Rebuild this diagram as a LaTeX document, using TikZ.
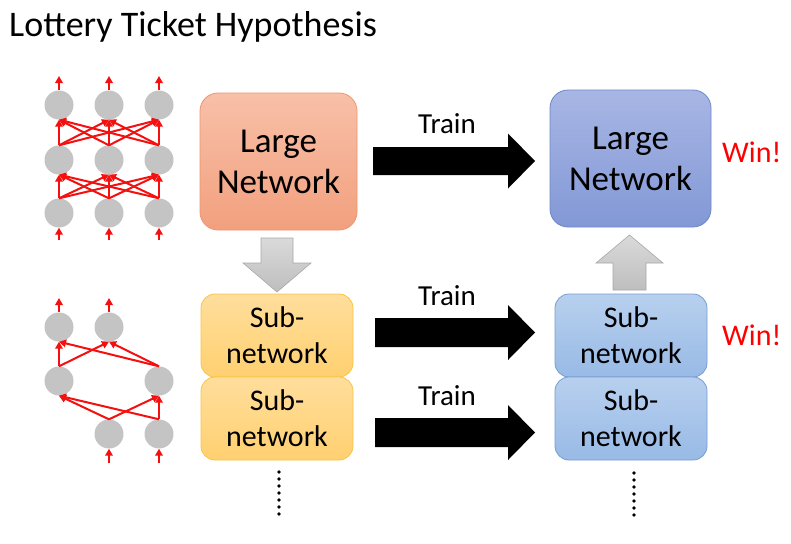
\documentclass[tikz,border=0pt]{standalone}
\usepackage{fontspec}
\setmainfont{Carlito}
\usetikzlibrary{arrows.meta}
\definecolor{nodegray}{RGB}{196,196,196}
\definecolor{arrred}{RGB}{245,15,15}
\definecolor{orTop}{RGB}{248,192,168}
\definecolor{orBot}{RGB}{242,160,126}
\definecolor{orLine}{RGB}{236,150,110}
\definecolor{blTop}{RGB}{168,182,228}
\definecolor{blBot}{RGB}{130,152,214}
\definecolor{blLine}{RGB}{110,135,200}
\definecolor{yeTop}{RGB}{255,222,156}
\definecolor{yeBot}{RGB}{255,208,112}
\definecolor{yeLine}{RGB}{250,196,70}
\definecolor{sbTop}{RGB}{184,208,238}
\definecolor{sbBot}{RGB}{152,186,230}
\definecolor{sbLine}{RGB}{118,158,210}
\definecolor{gyTop}{RGB}{218,218,218}
\definecolor{gyBot}{RGB}{190,190,190}
\definecolor{gyLine}{RGB}{168,168,168}
\definecolor{winred}{RGB}{255,0,0}
\begin{document}
\begin{tikzpicture}[x=1pt,y=-1pt,
  netnode/.style={circle, minimum size=29pt, inner sep=0pt, fill=nodegray},
  redarr/.style={draw=arrred, line width=2pt, -{Triangle[length=7pt,width=7.5pt]}},
  bigbox/.style={rounded corners=18pt, line width=0.8pt, align=center, inner sep=0pt,
    font=\fontsize{35}{41}\selectfont, minimum height=137pt},
  subbox/.style={rounded corners=14pt, line width=0.8pt, align=center, inner sep=0pt,
    font=\fontsize{30}{36}\selectfont, minimum width=152pt, minimum height=83pt},
  orangebox/.style={draw=orLine, top color=orTop, bottom color=orBot},
  bluebox/.style={draw=blLine, top color=blTop, bottom color=blBot},
  yellowbox/.style={draw=yeLine, top color=yeTop, bottom color=yeBot},
  sbluebox/.style={draw=sbLine, top color=sbTop, bottom color=sbBot},
  blockarrow/.style={fill=black},
  grayarrow/.style={draw=gyLine, line width=0.6pt, top color=gyTop, bottom color=gyBot},
  trainlabel/.style={anchor=base, inner sep=0pt, font=\fontsize{29}{34}\selectfont},
  winlabel/.style={anchor=base west, inner sep=0pt, text=winred, font=\fontsize{30}{36}\selectfont},
  dotmark/.style={fill=black}
]
\useasboundingbox (0,0) rectangle (791,543);
\fill[white] (0,0) rectangle (791,543);

% title
\node[anchor=base west, inner sep=0pt, font=\fontsize{36}{43}\selectfont] (title) at (9,37) {Lottery Ticket Hypothesis};

% ---------- network 1 ----------
\foreach \i/\x in {1/59,2/109,3/159} {
  \node[netnode] (a\i) at (\x,105) {};
  \node[netnode] (b\i) at (\x,160) {};
  \node[netnode] (c\i) at (\x,213) {};
  \coordinate (ao\i) at (\x,76);
  \coordinate (ci\i) at (\x,240);
}
\foreach \i in {1,2,3} {
  \foreach \j in {1,2,3} {
    \draw[redarr] (b\i.north) -- (a\j.south);
    \draw[redarr] (c\i.north) -- (b\j.south);
  }
  \draw[redarr] (a\i.north) -- (ao\i);
  \draw[redarr] (ci\i) -- (c\i.south);
}

% ---------- network 2 ----------
\node[netnode] (d1) at (59,327) {};
\node[netnode] (d2) at (109,327) {};
\node[netnode] (e1) at (59,381) {};
\node[netnode] (e2) at (159,381) {};
\node[netnode] (f1) at (109,434) {};
\node[netnode] (f2) at (159,434) {};
\coordinate (do1) at (59,298);
\coordinate (do2) at (109,298);
\coordinate (fi1) at (109,463);
\coordinate (fi2) at (159,463);
\foreach \i in {1,2} {
  \foreach \j in {1,2} {
    \draw[redarr] (e\i.north) -- (d\j.south);
    \draw[redarr] (f\i.north) -- (e\j.south);
  }
  \draw[redarr] (d\i.north) -- (do\i);
  \draw[redarr] (fi\i) -- (f\i.south);
}

% ---------- boxes ----------
\node[bigbox, orangebox, minimum width=157pt] (LN) at (278.5,161.5) {Large\\Network};
\node[bigbox, bluebox, minimum width=161pt] (LNT) at (630.5,158.5) {Large\\Network};
\node[subbox, yellowbox] (S1) at (277,335.5) {Sub-\\network};
\node[subbox, yellowbox] (S2) at (277,418.5) {Sub-\\network};
\node[subbox, sbluebox] (T1) at (631,335.5) {Sub-\\network};
\node[subbox, sbluebox] (T2) at (631,418.5) {Sub-\\network};

% ---------- train arrows ----------
\fill[blockarrow] (373,147) -- (508,147) -- (508,133.5) -- (535,161) -- (508,188.5) -- (508,175) -- (373,175) -- cycle;
\fill[blockarrow] (375,318) -- (508,318) -- (508,305) -- (535,332.5) -- (508,360) -- (508,347) -- (375,347) -- cycle;
\fill[blockarrow] (375,418) -- (508,418) -- (508,405) -- (535,432.5) -- (508,460) -- (508,447) -- (375,447) -- cycle;

\node[trainlabel] (tr1) at (447,133) {Train};
\node[trainlabel] (tr2) at (447,305) {Train};
\node[trainlabel] (tr3) at (447,405) {Train};

% ---------- gray arrows ----------
\path[grayarrow] (261,238) -- (293,238) -- (293,263) -- (311,263) -- (277,292) -- (243,263) -- (261,263) -- cycle;
\path[grayarrow] (613,290) -- (646,290) -- (646,263) -- (663,263) -- (629.5,235) -- (596,263) -- (613,263) -- cycle;

% ---------- win labels ----------
\node[winlabel] (win1) at (722,162) {Win!};
\node[winlabel] (win2) at (722,345) {Win!};

% ---------- dots ----------
\foreach \k in {0,...,6} {
  \fill[dotmark] (279,{472+7*\k}) circle (1.8);
  \fill[dotmark] (634,{473+7*\k}) circle (1.8);
}
\end{tikzpicture}
\end{document}
